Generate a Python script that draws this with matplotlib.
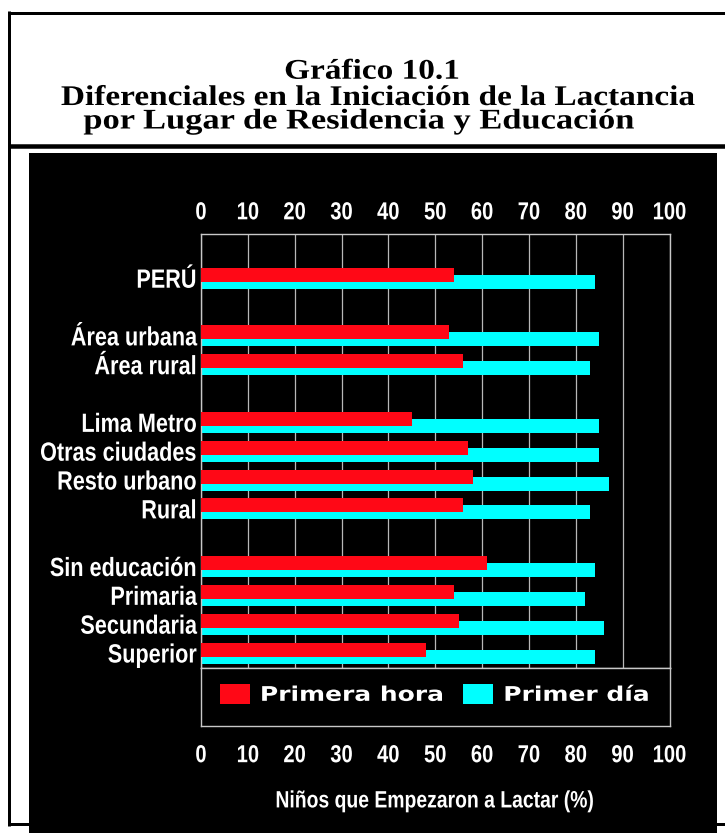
import matplotlib
matplotlib.use('Agg')
import matplotlib.pyplot as plt
from matplotlib import font_manager as fm, patheffects
from matplotlib.transforms import Affine2D
from matplotlib.patches import Rectangle

# ---------------- data ----------------
groups = [
    ['PERÚ'],
    ['Área urbana', 'Área rural'],
    ['Lima Metro', 'Otras ciudades', 'Resto urbano', 'Rural'],
    ['Sin educación', 'Primaria', 'Secundaria', 'Superior'],
]
primera_hora = [54, 53, 56, 45, 57, 58, 56, 61, 54, 55, 48]
primer_dia = [84, 85, 83, 85, 85, 87, 83, 84, 82, 86, 84]
xticks = [0, 10, 20, 30, 40, 50, 60, 70, 80, 90, 100]
series_names = ['Primera hora', 'Primer día']
title_lines = ['Gráfico 10.1',
               'Diferenciales en la Iniciación de la Lactancia',
               'por Lugar de Residencia y Educación']
xlabel = 'Niños que Empezaron a Lactar (%)'

# ---------------- fonts ----------------
names = {f.name for f in fm.fontManager.ttflist}


class Stretch(patheffects.AbstractPathEffect):
    """Draw text glyphs scaled horizontally about an anchor."""
    def __init__(self, sx, anchor='left'):
        super().__init__()
        self.sx = sx
        self.anchor = anchor

    def draw_path(self, renderer, gc, tpath, affine, rgbFace=None):
        ext = tpath.get_extents()
        if self.anchor == 'right':
            a = ext.x1
        elif self.anchor == 'center':
            a = (ext.x0 + ext.x1) / 2
        else:
            a = 0
        t = Affine2D().translate(-a, 0).scale(self.sx, 1).translate(a, 0) + affine
        renderer.draw_path(gc, tpath, t, rgbFace)


W, H = 725, 833
fig = plt.figure(figsize=(W / 100, H / 100), dpi=100)
fig.patch.set_facecolor('white')

bg = fig.add_axes([0, 0, 1, 1])
bg.set_xlim(0, W)
bg.set_ylim(H, 0)
bg.axis('off')

# frame lines
lw3 = 3 * 0.72
bg.plot([9.5, 9.5], [11, 825.7], color='black', lw=lw3, solid_capstyle='butt', zorder=1)
bg.plot([8, W], [12.5, 12.5], color='black', lw=lw3, solid_capstyle='butt', zorder=1)
bg.plot([8, W], [145.7, 145.7], color='black', lw=4.5 * 0.72, solid_capstyle='butt', zorder=1)
bg.plot([8, W], [824.2, 824.2], color='black', lw=lw3, solid_capstyle='butt', zorder=1)
bg.add_patch(Rectangle((29, 153.3), 716.7 - 29, H - 153.3 + 2, facecolor='black',
                       edgecolor='none', zorder=3))

# title
for line, xc, yb, sx in zip(title_lines, [372, 378, 359], [78.7, 105, 128.5], [1.17, 1.17, 1.21]):
    bg.text(xc, yb, line, ha='center', va='baseline', fontsize=20.5,
            family='Liberation Serif', weight='bold', color='black', zorder=4,
            path_effects=[Stretch(sx, 'center')])

# ---------------- main axes ----------------
cats = []
pos = []
p = 0
for gi, g in enumerate(groups):
    for c in g:
        cats.append(c)
        pos.append(p)
        p += 1
    p += 1

px = lambda v: v / W
py = lambda v: 1 - v / H
ax = fig.add_axes([px(201), py(668.3), px(669.5) - px(201), (668.3 - 234.3) / H])
ax.set_facecolor('black')

red = '#ff0816'
cyan = '#00ffff'
off = 0.121
bh = 0.486
b_dia = ax.barh([q + off for q in pos], primer_dia, height=bh, color=cyan, zorder=2, label=series_names[1])
b_hora = ax.barh([q - off for q in pos], primera_hora, height=bh, color=red, zorder=3, label=series_names[0])
ax.set_xlim(0, 100)
ax.set_ylim(13.53, -1.523)
ax.set_xticks(xticks)
ax.grid(axis='x', color='#b8b8b8', lw=0.9)
ax.set_axisbelow(True)
for s in ax.spines.values():
    s.set_color('#c8c8c8')
    s.set_linewidth(1.0)

if 'Liberation Sans Narrow' in names:
    lab_family = 'Liberation Sans Narrow'
    sx_lab = 1.0
else:
    lab_family = 'Liberation Sans'
    sx_lab = 0.82

ax.tick_params(axis='x', top=True, bottom=False, labeltop=True, labelbottom=False,
               length=0, pad=7.2, colors='white', labelsize=17.7)
ax.set_yticks(pos, cats)
ax.tick_params(axis='y', length=0, pad=3, colors='white', labelsize=19)
for t in ax.get_xticklabels():
    t.set_family(lab_family); t.set_weight('bold')
    if sx_lab != 1.0:
        t.set_path_effects([Stretch(sx_lab, 'center')])
for t in ax.get_yticklabels():
    t.set_family(lab_family); t.set_weight('bold')
    if sx_lab != 1.0:
        t.set_path_effects([Stretch(sx_lab, 'right')])

# ---------------- legend axes ----------------
lax = fig.add_axes([px(201), py(725.7), px(669.5) - px(201), (725.7 - 668.3) / H])
lax.set_facecolor('black')
lax.set_xlim(0, 100)
lax.set_ylim(0, 1)
lax.set_xticks(xticks)
lax.set_yticks([])
lax.tick_params(axis='x', length=0, pad=12.6, colors='white', labelsize=17.7)
for t in lax.get_xticklabels():
    t.set_family(lab_family); t.set_weight('bold')
    if sx_lab != 1.0:
        t.set_path_effects([Stretch(sx_lab, 'center')])
for s in lax.spines.values():
    s.set_color('#c8c8c8')
    s.set_linewidth(1.0)
lax.set_xlabel(xlabel, color='white', fontsize=17, family=lab_family, weight='bold', labelpad=16.0)
if sx_lab != 1.0:
    lax.xaxis.label.set_path_effects([Stretch(sx_lab, 'center')])

leg = lax.legend(handles=[b_hora, b_dia], labels=series_names, loc='center left',
                 bbox_to_anchor=(px(220), py(694.5)), bbox_transform=fig.transFigure,
                 ncol=2, frameon=False, borderpad=0, borderaxespad=0,
                 handlelength=1.48, handleheight=1.12,
                 handletextpad=0.5, columnspacing=2.7,
                 prop={'family': 'DejaVu Sans', 'weight': 'bold', 'size': 14.5})
for t in leg.get_texts():
    t.set_color('white')
    t.set_path_effects([Stretch(1.24, 'left')])

fig.savefig('out.png', dpi=100, facecolor='white')
